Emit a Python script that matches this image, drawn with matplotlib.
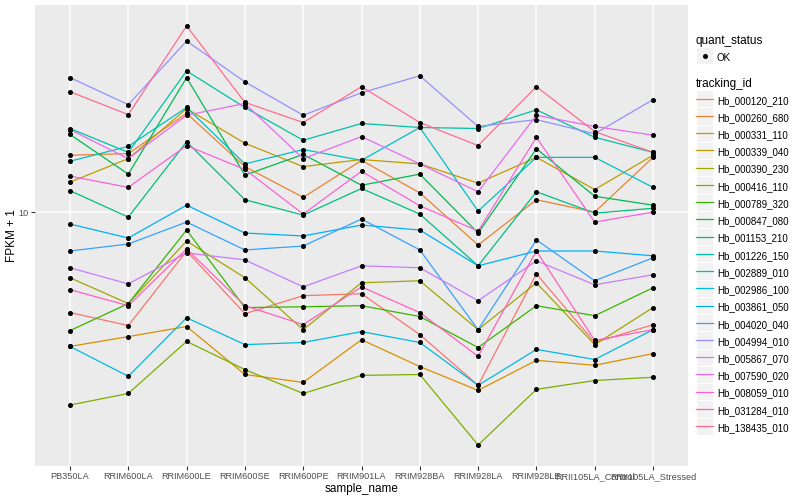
import numpy as np
import matplotlib
matplotlib.use("Agg")
import matplotlib.pyplot as plt
from matplotlib.lines import Line2D
from matplotlib.patches import Rectangle
from matplotlib.legend_handler import HandlerLine2D
from matplotlib.ticker import NullLocator

plt.rcParams['font.family'] = ['Liberation Sans', 'DejaVu Sans']

samples = ["PB350LA", "RRIM600LA", "RRIM600LE", "RRIM600SE", "RRIM600PE",
           "RRIM901LA", "RRIM928BA", "RRIM928LA", "RRIM928LE",
           "RRII105LA_Control", "RRII105LA_Stressed"]

tracking_ids = ["Hb_000120_210", "Hb_000260_680", "Hb_000331_110", "Hb_000339_040",
                "Hb_000390_230", "Hb_000416_110", "Hb_000789_320", "Hb_000847_080",
                "Hb_001153_210", "Hb_001226_150", "Hb_002889_010", "Hb_002986_100",
                "Hb_003861_050", "Hb_004020_040", "Hb_004994_010", "Hb_005867_070",
                "Hb_007590_020", "Hb_008059_010", "Hb_031284_010", "Hb_138435_010"]

# FPKM + 1, one list per gene, in sample order
hb_000120_210 = [4.61, 4.17, 7.41, 4.57, 5.25, 5.33, 3.89, 2.63, 6.21, 3.66, 4.20]
hb_000260_680 = [15.5, 15.7, 21.4, 14.2, 11.2, 14.9, 11.6, 7.76, 11.0, 10.0, 15.25]
hb_000331_110 = [3.55, 3.83, 4.14, 2.86, 2.69, 3.74, 3.04, 2.53, 3.19, 3.07, 3.36]
hb_000339_040 = [12.6, 15.1, 22.2, 17.0, 14.2, 15.0, 14.5, 12.5, 15.25, 11.9, 15.5]
hb_000390_230 = [6.03, 4.94, 8.00, 6.03, 4.04, 5.80, 5.89, 4.04, 5.80, 3.60, 4.79]
hb_000416_110 = [2.26, 2.47, 3.69, 2.97, 2.47, 2.84, 2.86, 1.66, 2.55, 2.73, 2.80]
hb_000789_320 = [4.01, 4.94, 8.71, 4.79, 4.82, 4.86, 4.47, 3.52, 4.86, 4.50, 5.58]
hb_000847_080 = [18.2, 13.4, 28.2, 13.3, 15.6, 12.3, 13.4, 8.51, 16.3, 11.3, 10.55]
hb_001153_210 = [11.8, 9.62, 17.2, 11.0, 9.77, 12.0, 9.85, 6.61, 11.7, 9.92, 10.3]
hb_001226_150 = [19.05, 15.85, 29.7, 22.4, 17.4, 19.8, 19.2, 19.05, 22.0, 17.8, 15.85]
hb_002889_010 = [14.8, 16.6, 22.4, 14.5, 16.2, 14.9, 19.2, 10.08, 15.25, 15.25, 12.1]
hb_002986_100 = [3.55, 2.82, 4.43, 3.60, 3.66, 3.98, 3.66, 2.63, 3.47, 3.21, 4.04]
hb_003861_050 = [9.12, 8.19, 10.55, 8.51, 8.32, 9.05, 8.71, 6.61, 7.41, 7.41, 7.14]
hb_004020_040 = [7.41, 7.82, 9.26, 7.47, 7.70, 9.48, 7.47, 4.04, 8.07, 5.89, 7.03]
hb_004994_010 = [28.2, 22.9, 37.4, 27.3, 21.1, 25.1, 28.6, 19.35, 20.4, 18.3, 23.8]
hb_005867_070 = [6.51, 5.75, 7.30, 6.92, 5.62, 6.61, 6.51, 5.05, 6.87, 5.71, 6.17]
hb_007590_020 = [18.9, 15.1, 21.1, 23.1, 15.1, 17.9, 14.5, 11.7, 21.1, 19.35, 18.1]
hb_008059_010 = [13.2, 12.1, 16.7, 13.9, 9.85, 13.7, 10.5, 8.64, 17.8, 9.26, 10.0]
hb_031284_010 = [5.50, 4.86, 7.53, 4.86, 4.20, 5.62, 4.61, 3.29, 7.41, 3.72, 4.04]
hb_138435_010 = [25.3, 21.2, 42.0, 23.3, 19.95, 26.3, 19.95, 16.7, 26.3, 18.6, 15.85]

series = [hb_000120_210, hb_000260_680, hb_000331_110, hb_000339_040, hb_000390_230,
          hb_000416_110, hb_000789_320, hb_000847_080, hb_001153_210, hb_001226_150,
          hb_002889_010, hb_002986_100, hb_003861_050, hb_004020_040, hb_004994_010,
          hb_005867_070, hb_007590_020, hb_008059_010, hb_031284_010, hb_138435_010]

# ggplot default hue palette for 20 levels
colours = ["#F8766D", "#EA8331", "#D89000", "#C09B00", "#A3A500", "#7CAE00", "#39B600",
           "#00BB4E", "#00BF7D", "#00C1A3", "#00BFC4", "#00BAE0", "#00B0F6", "#35A2FF",
           "#9590FF", "#C77CFF", "#E76BF3", "#FA62DB", "#FF62BC", "#FF6C91"]

KEY = 12.4  # key square side in points (~17 px)


class KeyHandler(HandlerLine2D):
    """legend key with the grey ggplot background square"""
    def create_artists(self, legend, orig_handle, xdescent, ydescent,
                       width, height, fontsize, trans):
        yc = (height - ydescent) / 2
        bg = Rectangle((-xdescent, yc - KEY / 2), width, KEY,
                       facecolor="#F2F2F2", edgecolor="white", lw=0.8, transform=trans)
        arts = super().create_artists(legend, orig_handle, xdescent, ydescent,
                                      width, height, fontsize, trans)
        return [bg] + list(arts)


fig = plt.figure(figsize=(8, 5), dpi=100)
ax = fig.add_axes([35 / 800, 1 - 466 / 500, (688 - 35) / 800, (466 - 5) / 500])
ax.set_facecolor("#EBEBEB")

x = np.arange(len(samples))
for vals, col in zip(series, colours):
    ax.plot(x, vals, color=col, lw=0.9, zorder=2)
for vals in series:
    ax.plot(x, vals, ls="none", marker="o", ms=2.6, color="black", zorder=3)

ax.set_yscale("log")
ax.set_xlim(-0.6, len(samples) - 0.4)
ax.margins(y=0.05)
ax.set_yticks([10])
ax.set_yticklabels(["10"])
ax.yaxis.set_minor_locator(NullLocator())
ax.set_xticks(x)
ax.set_xticklabels(samples)
ax.grid(True, color="white", lw=1.1, zorder=0)
ax.set_axisbelow(True)
for s in ax.spines.values():
    s.set_visible(False)
ax.tick_params(colors="#333333", labelcolor="#4D4D4D", labelsize=6.6, length=3, width=0.8, pad=1.5)
ax.set_xlabel("sample_name", fontsize=8.5, labelpad=1)
ax.set_ylabel("FPKM + 1", fontsize=8.5, labelpad=0)

# legends
leg_kw = dict(loc="upper left", frameon=False, fontsize=7, title_fontsize=8.5,
              alignment="left", numpoints=1, handlelength=1.75, handleheight=1.75,
              handletextpad=0.4, labelspacing=0.39, borderpad=0, borderaxespad=0,
              handler_map={Line2D: KeyHandler()})

pt_handle = [Line2D([], [], ls="none", marker="o", ms=2.6, color="black")]
leg1 = fig.legend(pt_handle, ["OK"], title="quant_status",
                  bbox_to_anchor=(696 / 800, 1 - 35 / 500), **leg_kw)

line_handles = [Line2D([], [], color=c, lw=0.9) for c in colours]
leg2 = fig.legend(line_handles, tracking_ids, title="tracking_id",
                  bbox_to_anchor=(696 / 800, 1 - 78 / 500), **leg_kw)

fig.savefig("out.png", dpi=100)
